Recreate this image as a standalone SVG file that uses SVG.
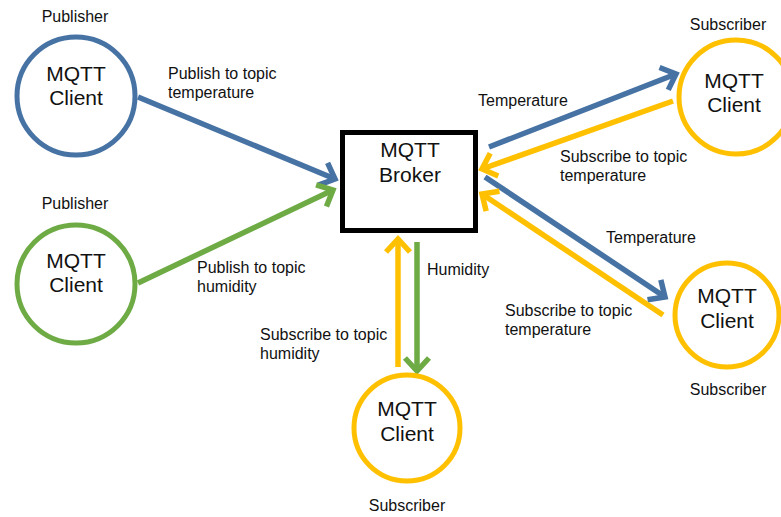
<svg xmlns="http://www.w3.org/2000/svg" width="781" height="517" viewBox="0 0 781 517">
<style>
.bg{fill:#fff}
.node circle{fill:#fff;stroke-width:5}
.blue{stroke:#4672A4}
.green{stroke:#6EAB45}
.yellow{stroke:#FFC000}
.big{font-family:"Liberation Sans",Arial,sans-serif;font-size:21px;fill:#111;text-anchor:middle}
.lbl{font-family:"Liberation Sans",Arial,sans-serif;font-size:16px;fill:#111}
.role{font-family:"Liberation Sans",Arial,sans-serif;font-size:16px;fill:#111;text-anchor:middle}
.conn line{stroke-width:5.5;fill:none}
</style>
<defs>
<marker id="ab" markerUnits="userSpaceOnUse" markerWidth="40" markerHeight="40" refX="0" refY="0" viewBox="-20 -20 40 40" orient="auto" overflow="visible">
<path d="M-13,-12 L0,0 L-13,12" fill="none" stroke="#4672A4" stroke-width="5.5"/>
</marker>
<marker id="ag" markerUnits="userSpaceOnUse" markerWidth="40" markerHeight="40" refX="0" refY="0" viewBox="-20 -20 40 40" orient="auto" overflow="visible">
<path d="M-13,-12 L0,0 L-13,12" fill="none" stroke="#6EAB45" stroke-width="5.5"/>
</marker>
<marker id="ay" markerUnits="userSpaceOnUse" markerWidth="40" markerHeight="40" refX="0" refY="0" viewBox="-20 -20 40 40" orient="auto" overflow="visible">
<path d="M-13,-12 L0,0 L-13,12" fill="none" stroke="#FFC000" stroke-width="5.5"/>
</marker>
</defs>
<rect class="bg" x="0" y="0" width="781" height="517"/>

<g id="connectors" class="conn">
<line class="blue" x1="138" y1="97" x2="335" y2="179" marker-end="url(#ab)"/>
<line class="green" x1="138" y1="283" x2="333" y2="190" marker-end="url(#ag)"/>
<line class="blue" x1="489" y1="147" x2="676" y2="74" marker-end="url(#ab)"/>
<line class="yellow" x1="673" y1="101" x2="482" y2="169" marker-end="url(#ay)"/>
<line class="blue" x1="485" y1="177" x2="665" y2="297" marker-end="url(#ab)"/>
<line class="yellow" x1="663" y1="315" x2="482" y2="194" marker-end="url(#ay)"/>
<line class="yellow" x1="398" y1="367" x2="398" y2="239" marker-end="url(#ay)"/>
<line class="green" x1="417" y1="242" x2="417" y2="371" marker-end="url(#ag)"/>
</g>

<g id="labels">
<text class="lbl" x="168" y="79">Publish to topic</text>
<text class="lbl" x="168" y="98">temperature</text>
<text class="lbl" x="197" y="273">Publish to topic</text>
<text class="lbl" x="197" y="292">humidity</text>
<text class="lbl" x="478" y="106">Temperature</text>
<text class="lbl" x="560" y="162">Subscribe to topic</text>
<text class="lbl" x="560" y="181">temperature</text>
<text class="lbl" x="606" y="243">Temperature</text>
<text class="lbl" x="505" y="316">Subscribe to topic</text>
<text class="lbl" x="505" y="335">temperature</text>
<text class="lbl" x="427" y="275">Humidity</text>
<text class="lbl" x="260" y="340">Subscribe to topic</text>
<text class="lbl" x="260" y="359">humidity</text>
</g>

<g id="pub1" class="node">
<circle class="blue" cx="76" cy="96" r="59"/>
<text class="big" x="76" y="81">MQTT</text>
<text class="big" x="76" y="105">Client</text>
<text class="role" x="75" y="22">Publisher</text>
</g>

<g id="pub2" class="node">
<circle class="green" cx="76" cy="284" r="59"/>
<text class="big" x="76" y="268">MQTT</text>
<text class="big" x="76" y="292">Client</text>
<text class="role" x="75" y="209">Publisher</text>
</g>

<g id="broker">
<rect x="342.5" y="132.5" width="133" height="98" fill="#fff" stroke="#000" stroke-width="5"/>
<text class="big" x="410" y="157">MQTT</text>
<text class="big" x="410" y="182">Broker</text>
</g>

<g id="sub1" class="node">
<circle class="yellow" cx="736" cy="97" r="57"/>
<text class="big" x="734" y="88">MQTT</text>
<text class="big" x="734" y="112">Client</text>
<text class="role" x="728" y="30">Subscriber</text>
</g>

<g id="sub2" class="node">
<circle class="yellow" cx="727" cy="315" r="52"/>
<text class="big" x="727" y="303">MQTT</text>
<text class="big" x="727" y="328">Client</text>
<text class="role" x="728" y="395">Subscriber</text>
</g>

<g id="sub3" class="node">
<circle class="yellow" cx="407" cy="428" r="53"/>
<text class="big" x="407" y="416">MQTT</text>
<text class="big" x="407" y="441">Client</text>
<text class="role" x="407" y="511">Subscriber</text>
</g>
</svg>
